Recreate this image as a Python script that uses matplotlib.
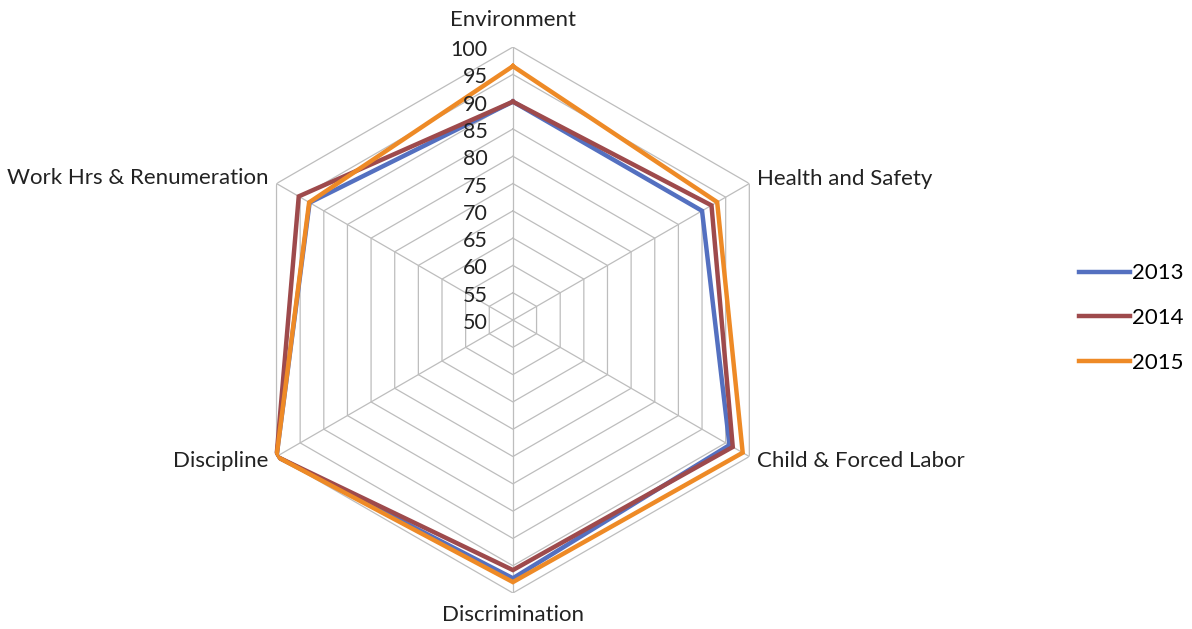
import numpy as np
import matplotlib
matplotlib.use("Agg")
import matplotlib.pyplot as plt
from matplotlib.lines import Line2D

plt.rcParams['font.family'] = ['Lato', 'DejaVu Sans']

categories = ["Environment", "Health and Safety", "Child & Forced Labor",
              "Discrimination", "Discipline", "Work Hrs & Renumeration"]
years = ["2013", "2014", "2015"]
scores_2013 = [90, 90, 95.8, 97.3, 100, 93]
scores_2014 = [90, 92, 96.5, 95.8, 100, 95.3]
scores_2015 = [96.5, 93.2, 98.6, 98, 100, 93.1]
tick_values = [50, 55, 60, 65, 70, 75, 80, 85, 90, 95, 100]

colors = ["#5470C0", "#9E4A4C", "#EE8A26"]
grid_color = "#BDBDBD"
text_color = "#222222"

fig = plt.figure(figsize=(11.92, 6.29), dpi=100)
ax = fig.add_axes([0.2013, 0.0572, 0.458, 0.868], projection="polar")
ax.set_theta_offset(np.pi / 2)
ax.set_theta_direction(-1)
ax.set_ylim(50, 100)
ax.grid(False)
ax.spines["polar"].set_visible(False)
ax.set_xticks([])
ax.set_yticks([])
ax.patch.set_alpha(0)

n = len(categories)
angles = np.linspace(0, 2 * np.pi, n, endpoint=False)
closed = np.append(angles, angles[0])

# hexagonal rings and spokes
for v in tick_values[1:]:
    ax.plot(closed, [v] * (n + 1), color=grid_color, lw=0.9, zorder=1)
for a in angles:
    ax.plot([a, a], [50, 100], color=grid_color, lw=0.9, zorder=1)

series = [scores_2013, scores_2014, scores_2015]
for vals, c, lab in zip(series, colors, years):
    ax.plot(closed, vals + vals[:1], color=c, lw=3.2, zorder=3,
            solid_joinstyle="miter", label=lab)

for v in tick_values:
    ax.annotate(str(v), xy=(0, v), xytext=(-25, -3), textcoords="offset pixels",
                ha="right", va="center", fontsize=15.5, color=text_color)

label_specs = [
    (0, 27, "center", "center"),
    (8, 5, "left", "center"),
    (8, -4, "left", "center"),
    (0, -22, "center", "center"),
    (-8, -4, "right", "center"),
    (-8, 6, "right", "center"),
]
for a, cat, (dx, dy, ha, va) in zip(angles, categories, label_specs):
    ax.annotate(cat, xy=(a, 100), xytext=(dx, dy), textcoords="offset pixels",
                ha=ha, va=va, fontsize=16, color=text_color)

handles = [Line2D([], [], color=c, lw=3.2) for c in colors]
fig.legend(handles, years, loc="center left", bbox_to_anchor=(0.905, 0.494),
           frameon=False, fontsize=16, handlelength=2.3, handletextpad=0.1,
           labelspacing=1.12, borderpad=0, borderaxespad=0)

fig.savefig("out.png", dpi=100)
